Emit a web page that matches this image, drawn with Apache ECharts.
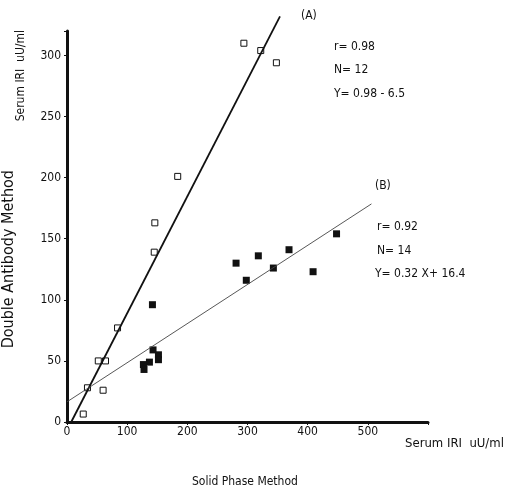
<!DOCTYPE html>
<html><head><meta charset="utf-8">
<script src="https://cdn.jsdelivr.net/npm/echarts@6/dist/echarts.min.js"></script>
<style>html,body{margin:0;padding:0;background:#fff}#c{width:507px;height:491px}</style>
</head><body><div id="c"></div>
<script>
// Data
const groupA = [[294,310],[322,304],[348,294],[184,201],[146,163],[145,139],[84,77],[52,50],[64,50],[34,28],[60,26],[27,6.5]];
const groupB = [[142,96],[143,59],[152,55],[152,51],[137,49],[127,47],[128,43],[281,130],[298,116],[318,136],[343,126],[369,141],[409,123],[448,154]];
const lineA = [[7,0],[354,332]];
const lineB = [[0,16.5],[506,178.5]];
const xTicks = [0,100,200,300,400,500];
const yTicks = [0,50,100,150,200,250,300];
const annA = ["r= 0.98","N= 12","Y= 0.98 - 6.5"];
const annB = ["r= 0.92","N= 14","Y= 0.32 X+ 16.4"];

const FONT = '"Liberation Sans Narrow","DejaVu Sans Condensed","Liberation Sans",sans-serif';
const chart = echarts.init(document.getElementById('c'));
function txt(x,y,s,size){return {type:'text',left:x,top:y,style:{text:s,font:(size||12)+'px '+FONT,fill:'#111'}};}
const graphics = [
  txt(301,10,'(A)'),
  txt(334,41,annA[0]),txt(334,64,annA[1]),txt(334,88,annA[2]),
  txt(375,180,'(B)'),
  txt(377,221,annB[0]),txt(377,245,annB[1]),txt(375,268,annB[2]),
  txt(405,437,'Serum IRI  uU/ml',13),
  txt(192,476,'Solid Phase Method'),
  {type:'text',left:15,top:30,rotation:Math.PI/2,style:{text:'Serum IRI  uU/ml',font:'12px '+FONT,fill:'#111'}},
  {type:'text',left:1,top:170,rotation:Math.PI/2,style:{text:'Double Antibody Method',font:'16px '+FONT,fill:'#111'}}
];
chart.setOption({
  animation:false,
  grid:{left:67,right:79,top:31,bottom:69},
  xAxis:{type:'value',min:0,max:600,interval:100,
    axisLine:{lineStyle:{color:'#111',width:3}},
    axisTick:{show:true,length:3,lineStyle:{color:'#111'}},
    splitLine:{show:false},
    axisLabel:{color:'#111',fontSize:12,fontFamily:FONT,margin:4,
      formatter:v=>xTicks.includes(v)?String(v):''}},
  yAxis:{type:'value',min:0,max:320,interval:50,
    axisLine:{show:true,lineStyle:{color:'#111',width:3}},
    axisTick:{show:true,length:3,lineStyle:{color:'#111'}},
    splitLine:{show:false},
    axisLabel:{color:'#111',fontSize:12,fontFamily:FONT,margin:6,
      formatter:v=>yTicks.includes(v)?String(v):''}},
  graphic:graphics,
  series:[
    {type:'line',data:lineA,symbol:'none',clip:false,lineStyle:{color:'#111',width:1.8}},
    {type:'line',data:lineB,symbol:'none',clip:false,lineStyle:{color:'#444',width:0.9}},
    {type:'scatter',data:groupA,symbol:'rect',symbolSize:6,clip:false,
      itemStyle:{color:'#fff',borderColor:'#111',borderWidth:1,opacity:1}},
    {type:'scatter',data:groupB,symbol:'rect',symbolSize:7,
      itemStyle:{color:'#111',opacity:1}}
  ]
});
</script></body></html>
